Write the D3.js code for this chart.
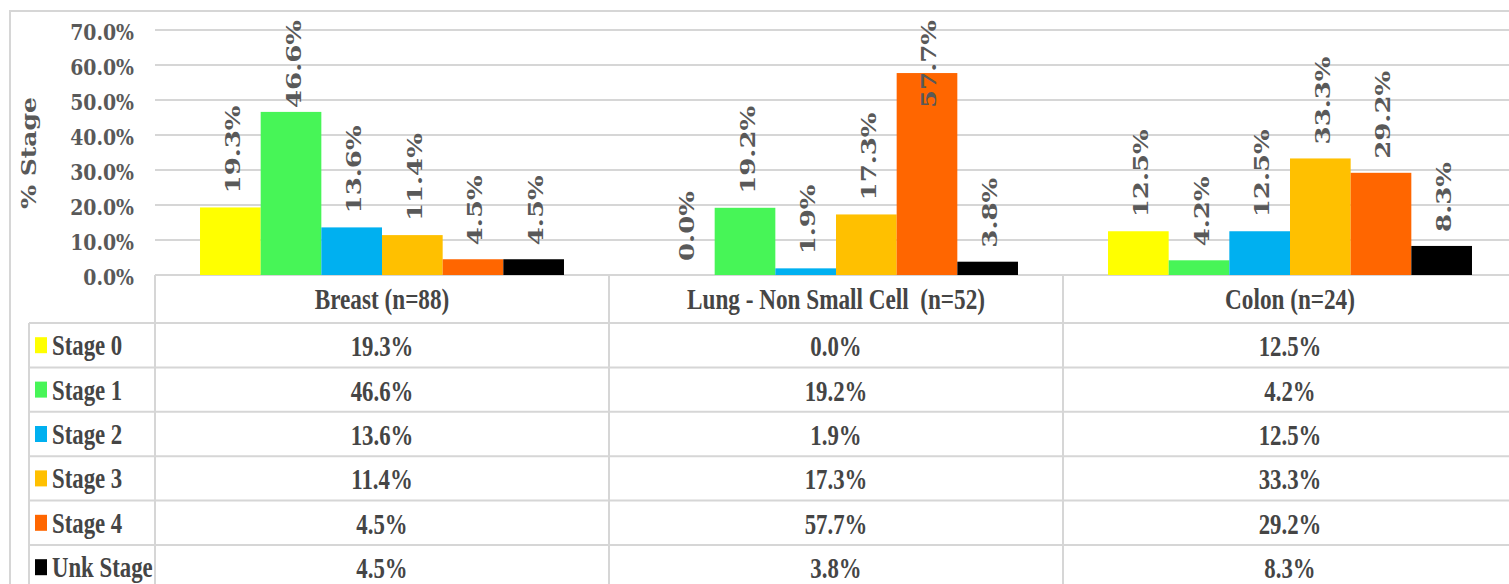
<!DOCTYPE html>
<html><head><meta charset="utf-8">
<script src="https://cdn.jsdelivr.net/npm/d3@7"></script>
<style>body{margin:0;background:#fff}svg{display:block}text{white-space:pre}</style>
</head><body>
<script>
const categories = ["Breast (n=88)", "Lung - Non Small Cell  (n=52)", "Colon (n=24)"];
const stages = ["Stage 0", "Stage 1", "Stage 2", "Stage 3", "Stage 4", "Unk Stage"];
const stage0 = [19.3, 0.0, 12.5];
const stage1 = [46.6, 19.2, 4.2];
const stage2 = [13.6, 1.9, 12.5];
const stage3 = [11.4, 17.3, 33.3];
const stage4 = [4.5, 57.7, 29.2];
const stageUnk = [4.5, 3.8, 8.3];
const stageColors = ["#FFFF00", "#47F557", "#00B0F0", "#FFC000", "#FF6600", "#000000"];
const yTicks = [0, 10, 20, 30, 40, 50, 60, 70];
const yTitle = "% Stage";

const seriesValues = [stage0, stage1, stage2, stage3, stage4, stageUnk];
const fmt = v => v.toFixed(1) + "%";

const W = 1509, H = 584;
const svg = d3.select("body").append("svg").attr("width", W).attr("height", H);

const plotL = 155, plotR = 1517, plotTop = 30, plotBot = 275;
const grid = "#d6d6d6", txt = "#595959", tblTxt = "#454545";

const y = d3.scaleLinear().domain([0, 70]).range([plotBot, plotTop]);
const x0 = d3.scaleBand().domain(categories).range([plotL, plotR]);
const x1 = d3.scaleBand().domain(stages).range([0, x0.bandwidth()]).paddingOuter(0.742);
const rowY = d3.scaleBand().domain(stages).range([323, 323 + 6 * 44.4]);

// outer border
svg.append("rect").attr("x", 10).attr("y", 11).attr("width", W + 20).attr("height", H + 20)
  .attr("fill", "none").attr("stroke", grid).attr("stroke-width", 2);

// gridlines
svg.append("g").selectAll("line").data(yTicks).join("line")
  .attr("x1", plotL).attr("x2", plotR)
  .attr("y1", d => y(d)).attr("y2", d => y(d))
  .attr("stroke", grid).attr("stroke-width", 2);

// tick labels
svg.append("g").selectAll("text").data(yTicks).join("text")
  .attr("transform", d => `translate(134,${y(d) + 2}) scale(0.82,1)`)
  .attr("text-anchor", "end").attr("dy", "0.36em")
  .attr("font-family", "DejaVu Serif").attr("font-weight", "bold").attr("font-size", 23)
  .attr("fill", txt).text(d => d.toFixed(1) + "%");

// y title
svg.append("text").attr("transform", "translate(36,153) scale(0.8,1) rotate(-90)")
  .attr("text-anchor", "middle")
  .attr("font-family", "DejaVu Serif").attr("font-weight", "bold").attr("font-size", 25)
  .attr("fill", txt).text(yTitle);

// bars
const barData = [];
stages.forEach((s, si) => categories.forEach((c, ci) => barData.push({ s, si, c, v: seriesValues[si][ci] })));
svg.append("g").selectAll("rect").data(barData).join("rect")
  .attr("x", d => x0(d.c) + x1(d.s))
  .attr("width", x1.bandwidth())
  .attr("y", d => y(d.v))
  .attr("height", d => y(0) - y(d.v))
  .attr("fill", d => stageColors[d.si]);

// data labels (rotated)
const lbl = svg.append("g").selectAll("text").data(barData).join("text")
  .attr("font-family", "DejaVu Serif").attr("font-weight", "bold").attr("font-size", 26)
  .attr("fill", txt).attr("dy", "0.36em").text(d => fmt(d.v));
lbl.each(function (d) {
  const len = this.getComputedTextLength();
  let start = y(d.v) - 14;
  if (start - len < 20) start = 20 + len;
  const cx = x0(d.c) + x1(d.s) + x1.bandwidth() / 2 + 2;
  d3.select(this).attr("transform", `translate(${cx},${start}) scale(0.8,1) rotate(-90)`);
});

// table lines
const tbl = svg.append("g").attr("stroke", grid).attr("stroke-width", 2);
const rowLines = d3.range(7).map(i => 323 + i * rowY.step());
tbl.selectAll("line.h").data(rowLines).join("line").attr("class", "h")
  .attr("x1", 29).attr("x2", plotR).attr("y1", d => d).attr("y2", d => d);
tbl.append("line").attr("x1", 29).attr("x2", 29).attr("y1", 323).attr("y2", H + 10);
const colEdges = categories.map(c => x0(c)).concat([plotR]);
tbl.selectAll("line.v").data(colEdges).join("line").attr("class", "v")
  .attr("x1", d => d).attr("x2", d => d).attr("y1", plotBot).attr("y2", H + 10);

// header texts
svg.append("g").selectAll("text").data(categories).join("text")
  .attr("transform", d => `translate(${x0(d) + x0.bandwidth() / 2},309) scale(0.8,1)`)
  .attr("text-anchor", "middle")
  .attr("font-family", "Liberation Serif").attr("font-weight", "bold").attr("font-size", 29)
  .attr("fill", tblTxt).text(d => d);

// legend column
const leg = svg.append("g").selectAll("g").data(stages).join("g")
  .attr("transform", d => `translate(0,${rowY(d) + rowY.bandwidth() / 2})`);
leg.append("rect").attr("x", 35).attr("y", -8).attr("width", 12).attr("height", 16)
  .attr("fill", (d, i) => stageColors[i]);
leg.append("text").attr("transform", "translate(52,10) scale(0.76,1)")
  .attr("font-family", "Liberation Serif").attr("font-weight", "bold").attr("font-size", 30)
  .attr("fill", tblTxt).text(d => d);

// values in table
svg.append("g").selectAll("text").data(barData).join("text")
  .attr("transform", d => `translate(${x0(d.c) + x0.bandwidth() / 2},${rowY(d.s) + rowY.bandwidth() / 2 + 11}) scale(0.76,1)`)
  .attr("text-anchor", "middle")
  .attr("font-family", "Liberation Serif").attr("font-weight", "bold").attr("font-size", 30)
  .attr("fill", tblTxt).text(d => fmt(d.v));
</script>
</body></html>
